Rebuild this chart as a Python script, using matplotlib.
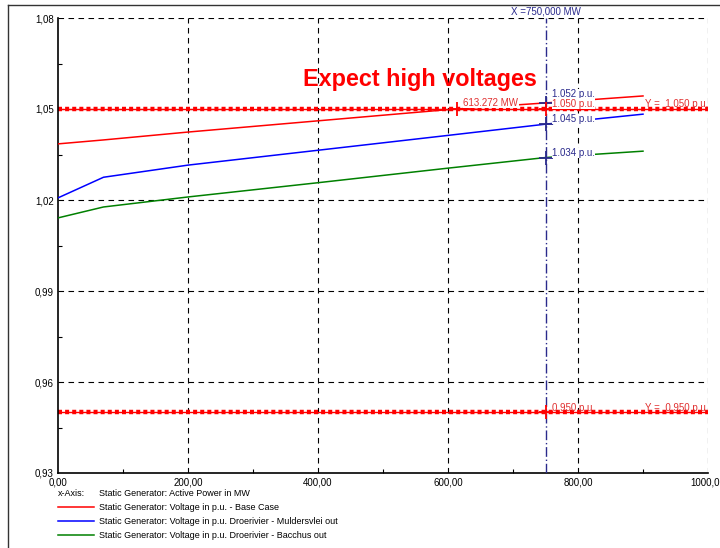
import numpy as np
import matplotlib
matplotlib.use("Agg")
import matplotlib.pyplot as plt
from matplotlib.lines import Line2D

plt.rcParams["font.family"] = ["Liberation Sans", "DejaVu Sans"]

# Active power (MW) and voltage (p.u.)
power_mw = [0, 70, 200, 400, 600, 750, 900]
v_base = [1.0385, 1.0398, 1.0424, 1.0461, 1.0498, 1.0520, 1.0543]
v_mulders = [1.0207, 1.0275, 1.0315, 1.0364, 1.0413, 1.0450, 1.0483]
v_bacchus = [1.0141, 1.0177, 1.0210, 1.0257, 1.0305, 1.0340, 1.0361]

series_labels = [
    "Static Generator: Voltage in p.u. - Base Case",
    "Static Generator: Voltage in p.u. Droerivier - Muldersvlei out",
    "Static Generator: Voltage in p.u. Droerivier - Bacchus out",
]
series_colors = ["#ff0000", "#0000ff", "#008000"]

v_upper = 1.050
v_lower = 0.950
x_cursor = 750.0
x_cross = 613.272
cursor_values = [1.052, 1.045, 1.034]
cursor_label_y = [1.0549, 1.0467, 1.0355]

x_ticks = [0, 200, 400, 600, 800, 1000]
y_ticks = [0.93, 0.96, 0.99, 1.02, 1.05, 1.08]

LIMIT_RED = "#ff0000"
LABEL_RED = "#e03030"
NAVY = "#2a2a8c"
WHITE_BOX = dict(facecolor="white", edgecolor="none", pad=0.3)

fig = plt.figure(figsize=(7.2, 5.48), dpi=100)
ax = fig.add_axes([58 / 720, 1 - 473 / 548, 650 / 720, 455 / 548])

# ---- grid and frame ----
for xv in x_ticks[1:]:
    ax.axvline(xv, color="black", ls=(0, (5, 4)), lw=0.8, zorder=1)
for yv in y_ticks[1:]:
    ax.axhline(yv, color="black", ls=(0, (5, 4)), lw=0.8, zorder=1)
for side in ["top", "right"]:
    ax.spines[side].set_visible(False)
ax.spines["left"].set_linewidth(1.2)
ax.spines["bottom"].set_linewidth(1.2)

# ---- limit lines ----
for lim in (v_upper, v_lower):
    ax.axhline(lim, color=LIMIT_RED, lw=1.0, zorder=2)
    ax.axhline(lim, color=LIMIT_RED, lw=3.2, ls=(0, (0.9, 0.7)), zorder=2)

# ---- curves ----
for vals, col in zip([v_base, v_mulders, v_bacchus], series_colors):
    ax.plot(power_mw, vals, color=col, lw=1.1, zorder=3)

# ---- cursor at 750 MW ----
ax.axvline(x_cursor, color=NAVY, lw=1.0, ls=(0, (7, 2, 1, 2)), zorder=4)
ax.text(x_cursor, 1.0820, "X =750,000 MW", color=NAVY, fontsize=7,
        ha="center", va="center", clip_on=False)
for v, ly in zip(cursor_values, cursor_label_y):
    ax.plot(x_cursor, v, marker="+", ms=10, mew=1.3, color=NAVY, zorder=5)
    ax.text(x_cursor + 10, ly, f"{v:.3f} p.u.", color=NAVY, fontsize=7,
            ha="left", va="center", zorder=6, bbox=WHITE_BOX)
for px in (x_cursor, x_cross):
    ax.plot(px, v_upper, marker="+", ms=10, mew=1.3, color=LIMIT_RED, zorder=5)
ax.plot(x_cursor, v_lower, marker="+", ms=10, mew=1.3, color=LIMIT_RED, zorder=5)

ax.text(x_cursor + 10, 1.0517, f"{v_upper:.3f} p.u.", color=LABEL_RED, fontsize=7,
        ha="left", va="center", zorder=6, bbox=WHITE_BOX)
ax.text(x_cross + 10, 1.0520, f"{x_cross:.3f} MW", color=LABEL_RED, fontsize=7,
        ha="left", va="center", zorder=6, bbox=WHITE_BOX)
ax.text(x_cursor + 10, 0.9514, f"{v_lower:.3f} p.u.", color=LABEL_RED, fontsize=7,
        ha="left", va="center", zorder=6)
ax.text(1000, 1.0517, f"Y =  {v_upper:.3f} p.u.", color=LABEL_RED, fontsize=7,
        ha="right", va="center", zorder=6)
ax.text(1000, 0.9514, f"Y =  {v_lower:.3f} p.u.", color=LABEL_RED, fontsize=7,
        ha="right", va="center", zorder=6)

ax.text(377, 1.0597, "Expect high voltages", color="#ff0000", fontsize=16.8,
        fontweight="bold", ha="left", va="center", zorder=6)

# ---- axes ----
ax.set_xlim(0, 1000)
ax.set_ylim(0.93, 1.08)
ax.set_xticks(x_ticks)
ax.set_xticklabels([f"{v:.2f}".replace(".", ",") for v in x_ticks], fontsize=7)
ax.set_yticks(y_ticks)
ax.set_yticklabels([f"{v:.2f}".replace(".", ",") for v in y_ticks], fontsize=7)
ax.set_xticks([100, 300, 500, 700, 900], minor=True)
ax.set_yticks([0.945, 0.975, 1.005, 1.035, 1.065], minor=True)
ax.tick_params(which="major", length=0, pad=3)
ax.tick_params(which="minor", length=3, direction="in", width=0.8)

# ---- legend block below the plot ----
fig.text(58 / 720, 1 - 493 / 548, "x-Axis:", fontsize=6.5, va="center")
fig.text(99 / 720, 1 - 493 / 548, "Static Generator: Active Power in MW",
         fontsize=6.5, va="center")
for i, (lab, col) in enumerate(zip(series_labels, series_colors)):
    yy = 1 - (507 + 14 * i) / 548
    fig.add_artist(Line2D([58 / 720, 94 / 720], [yy, yy], color=col, lw=1.1))
    fig.text(99 / 720, yy, lab, fontsize=6.5, va="center")

# ---- outer frame ----
fig.add_artist(Line2D([8 / 720, 8 / 720], [0, 1 - 5 / 548], color="#333333", lw=1.0))
fig.add_artist(Line2D([8 / 720, 1], [1 - 5 / 548, 1 - 5 / 548], color="#333333", lw=1.0))

fig.savefig("out.png", dpi=100)
plt.close(fig)
